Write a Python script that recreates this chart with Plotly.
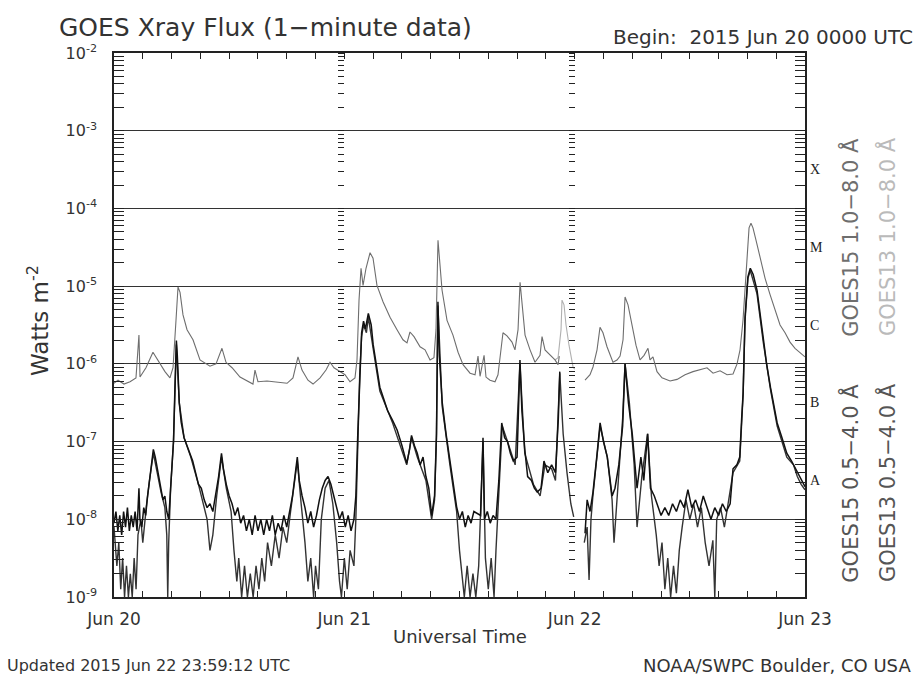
import numpy as np
import pandas as pd
import plotly.graph_objects as go

# ---------------- data (hours since 2015-06-20 00:00 UTC, log10 flux W m^-2) -------------
g15_long_h = [0.0, 0.42, 1.04, 1.67, 2.29, 2.6, 2.71, 3.33, 4.06, 4.58, 5.31, 5.83, 6.15, 6.46, 6.67,
              6.88, 7.19, 7.61, 8.23, 8.96, 9.48, 10.0, 10.63, 11.25, 11.67, 12.3, 13.13, 13.86, 14.48,
              14.69, 15.0, 15.94, 16.78, 18.03, 18.65, 19.17, 19.59, 20.21, 20.74, 21.47, 22.09, 22.51,
              22.92, 23.55, 24.07, 24.59, 25.11, 25.32, 25.53, 25.74, 25.95, 26.26, 26.68, 26.99, 27.4,
              28.03, 28.76, 29.49, 30.11, 30.53, 30.84, 31.26, 31.89, 32.41, 32.93, 33.34, 33.55, 33.76,
              33.97, 34.18, 34.7, 35.32, 35.85, 36.37, 37.1, 37.62, 37.93, 38.14, 38.56, 38.76, 39.18,
              39.7, 40.01, 40.53, 40.95, 41.47, 41.78, 42.1, 42.31, 42.51, 42.83, 43.35, 43.87, 44.39,
              44.6, 44.91, 45.43, 45.95, 46.27, 46.4, 48.0,
              49.08, 49.6, 49.91, 50.33, 50.64, 50.95, 51.37, 51.99, 52.41, 52.73, 53.04, 53.25, 53.56,
              53.98, 54.39, 54.81, 55.23, 55.64, 55.85, 56.16, 56.58, 57.1, 57.94, 58.67, 59.5, 60.33,
              61.06, 61.79, 62.42, 63.15, 63.88, 64.5, 64.92, 65.23, 65.54, 65.75, 65.96, 66.17, 66.37,
              66.58, 66.9, 67.32, 67.84, 68.36, 68.88, 69.4, 69.92, 70.44, 70.96, 71.48, 72.0]
g15_long_v = [-6.25, -6.21, -6.26, -6.23, -6.18, -5.63, -6.17, -6.05, -5.85, -5.95, -6.10, -6.18, -6.05,
              -5.44, -5.01, -5.08, -5.37, -5.56, -5.69, -5.95, -5.99, -6.03, -6.0, -5.80, -5.98, -6.05,
              -6.17, -6.22, -6.26, -6.08, -6.23, -6.22, -6.23, -6.25, -6.18, -5.91, -6.08, -6.21, -6.26,
              -6.18, -6.08, -5.98, -6.05, -6.10, -6.14, -6.23, -6.18, -5.95, -5.18, -4.77, -4.99, -4.77,
              -4.57, -4.64, -4.99, -5.20, -5.40, -5.56, -5.69, -5.73, -5.59, -5.65, -5.78, -5.82, -5.95,
              -5.92, -5.56, -4.41, -4.79, -5.05, -5.44, -5.63, -5.85, -6.01, -6.12, -6.14, -5.90, -6.16,
              -5.89, -6.17, -6.21, -6.23, -6.14, -5.60, -5.64, -5.72, -5.82, -5.56, -4.95, -5.18, -5.63,
              -5.82, -5.98, -5.89, -5.65, -5.82, -5.89, -5.95, -6.01, -5.9, np.nan,
              -6.21, -6.14, -6.04, -5.82, -5.53, -5.60, -5.78, -5.98, -5.95, -5.90, -5.69, -5.14, -5.24,
              -5.50, -5.76, -5.95, -5.89, -5.80, -5.95, -5.91, -6.10, -6.18, -6.22, -6.20, -6.14, -6.10,
              -6.07, -6.05, -6.12, -6.09, -6.14, -6.13, -6.00, -5.82, -5.44, -5.02, -4.54, -4.25, -4.19,
              -4.25, -4.41, -4.64, -4.90, -5.11, -5.31, -5.50, -5.60, -5.72, -5.80, -5.86, -5.91]

g13_long_h = [45.95, 46.27, 46.58, 46.68, 46.89, 47.1, 47.41, 47.83, 48.0]
g13_long_v = [-5.95, -5.92, -5.56, -5.18, -5.24, -5.50, -5.76, -6.04, -6.07]

g15_short_h = [0.0, 0.2, 0.4, 0.6, 0.8, 1.0, 1.2, 1.4, 1.6, 1.8, 2.0, 2.2, 2.4, 2.6, 2.7, 2.9, 3.1, 3.3,
               3.5, 3.7, 3.9, 4.1, 4.3, 4.5, 4.7, 4.9, 5.1, 5.3, 5.5, 5.7, 5.8, 6.0, 6.2, 6.35, 6.5, 6.6,
               6.8, 7.0, 7.3, 7.6, 7.9, 8.2, 8.5, 8.8, 9.1, 9.4, 9.7, 10.0, 10.3, 10.6, 10.9, 11.2, 11.4,
               11.7, 12.0, 12.3, 12.6, 12.9, 13.2, 13.5, 13.8, 14.1, 14.4, 14.7, 15.0, 15.3, 15.6, 15.9,
               16.2, 16.5, 16.8, 17.1, 17.4, 17.7, 18.0, 18.3, 18.6, 19.1, 19.3, 19.6, 19.9, 20.2, 20.5,
               20.8, 21.1, 21.4, 21.7, 22.0, 22.3, 22.6, 22.9, 23.2, 23.5, 23.8, 24.1, 24.4, 24.7, 25.0,
               25.2, 25.4, 25.6, 25.8, 26.0, 26.2, 26.5, 26.8, 27.0, 27.4, 27.7, 28.1, 28.5, 29.0, 29.5,
               30.0, 30.5, 30.8, 31.0, 31.3, 31.6, 31.9, 32.2, 32.5, 32.8, 33.1, 33.4, 33.6, 33.75, 33.9,
               34.2, 34.6, 35.0, 35.4, 35.7, 36.0, 36.3, 36.6, 36.9, 37.2, 37.5, 38.2, 38.45, 38.6, 38.9,
               39.2, 39.5, 39.8, 40.1, 40.4, 40.7, 41.0, 41.3, 41.6, 42.0, 42.3, 42.5, 42.8, 43.1, 43.5,
               43.8, 44.1, 44.5, 44.8, 45.2, 45.6, 46.0, 46.3, 46.45, 47.0,
               49.08, 49.3, 49.6, 49.9, 50.3, 50.65, 51.0, 51.4, 51.9, 52.2, 52.6, 53.0, 53.25, 53.6,
               54.0, 54.3, 54.5, 54.9, 55.2, 55.6, 55.9, 56.3, 56.6, 57.0, 57.4, 57.8, 58.2, 58.6, 59.0,
               59.4, 59.8, 60.2, 60.6, 61.0, 61.4, 61.8, 62.2, 62.6, 63.0, 63.4, 63.8, 64.2, 64.5, 64.9,
               65.2, 65.4, 65.55, 65.75, 66.05, 66.3, 66.6, 67.0, 67.3, 67.65, 68.0, 68.4, 68.8, 69.1,
               69.6, 70.1, 70.6, 71.2, 71.6, 72.0]
g15_short_v = [-8.05, -7.9, -8.15, -7.95, -8.2, -7.9, -8.1, -7.85, -8.15, -7.95, -8.1, -7.9, -8.15, -7.6,
               -8.0, -8.1, -7.85, -7.95, -7.7, -7.5, -7.3, -7.1, -7.2, -7.35, -7.5, -7.6, -7.75, -7.7,
               -7.9, -8.0, -7.8, -7.45, -7.0, -6.3, -5.7, -5.9, -6.5, -6.75, -6.95, -7.05, -7.15, -7.25,
               -7.4, -7.55, -7.6, -7.75, -7.85, -7.8, -7.9, -7.7, -7.45, -7.15, -7.35, -7.55, -7.7, -7.8,
               -7.95, -7.85, -8.05, -7.95, -8.15, -8.0, -8.2, -7.95, -8.15, -8.0, -8.2, -8.0, -8.15,
               -7.95, -8.2, -8.05, -8.15, -7.95, -8.1, -7.9, -7.7, -7.2, -7.5, -7.7, -7.85, -8.05, -7.9,
               -8.1, -7.95, -7.75, -7.6, -7.5, -7.45, -7.55, -7.7, -7.85, -8.0, -7.9, -8.1, -7.95, -8.15,
               -8.0, -7.7, -6.9, -6.1, -5.6, -5.45, -5.55, -5.35, -5.5, -5.75, -6.1, -6.3, -6.45, -6.6,
               -6.72, -6.85, -7.05, -7.28, -7.1, -6.92, -7.05, -7.15, -7.3, -7.2, -7.45, -7.6, -7.95,
               -7.7, -6.9, -5.2, -5.9, -6.5, -6.9, -7.24, -7.55, -7.84, -8.0, -7.9, -8.1, -7.95, -8.05,
               -7.9, -7.95, -6.95, -8.0, -7.9, -8.05, -7.95, -8.0, -7.5, -6.76, -6.95, -7.0, -7.15,
               -7.25, -7.2, -5.95, -6.6, -7.1, -7.45, -7.5, -7.6, -7.65, -7.6, -7.25, -7.4, -7.3, -7.4,
               -6.7, -6.1, np.nan,
               -8.18, -7.75, -7.9, -7.66, -7.2, -6.76, -7.0, -7.2, -7.7, -7.6, -7.3, -6.8, -6.0, -6.5,
               -6.9, -7.35, -7.6, -7.2, -7.5, -6.9, -7.6, -7.7, -7.8, -7.95, -7.85, -7.95, -7.8, -7.9,
               -7.75, -7.85, -7.62, -7.85, -7.75, -7.9, -7.7, -7.85, -8.0, -7.85, -7.95, -7.8, -7.9,
               -7.8, -7.35, -7.3, -7.2, -6.7, -6.38, -5.4, -4.88, -4.77, -4.85, -5.05, -5.35, -5.69,
               -6.0, -6.3, -6.55, -6.76, -6.95, -7.15, -7.25, -7.4, -7.5, -7.58]

g13_short_h = [0.0, 0.3, 0.5, 0.7, 0.9, 1.1, 1.3, 1.5, 1.7, 1.9, 2.1, 2.3, 2.5, 2.8, 3.0, 3.2, 3.4, 3.7,
               4.1, 4.5, 4.9, 5.3, 5.5, 5.6, 5.7, 5.9, 6.2, 6.5, 6.8, 7.3, 8.0, 8.8, 9.3, 9.7, 10.0, 10.3,
               10.7, 11.2, 11.7, 12.2, 12.5, 12.8, 13.0, 13.3, 13.6, 13.9, 14.2, 14.5, 14.8, 15.1, 15.4,
               15.7, 16.0, 16.4, 16.8, 17.2, 17.6, 18.0, 18.4, 19.1, 19.5, 19.9, 20.2, 20.5, 20.8, 21.0,
               21.3, 21.6, 22.0, 22.4, 22.8, 23.2, 23.5, 23.7, 24.0, 24.3, 24.6, 25.0, 25.2, 25.4, 25.6,
               25.8, 26.0, 26.3, 26.5, 27.0, 27.7, 29.0, 30.5, 31.0, 31.6, 32.5, 33.1, 33.4, 33.6, 33.75,
               34.2, 35.0, 35.7, 36.0, 36.3, 36.5, 36.8, 37.1, 37.4, 37.7, 38.0, 38.45, 38.7, 39.0, 39.3,
               39.6, 39.8, 40.1, 40.45, 41.0, 41.8, 42.3, 42.8, 43.7, 44.4, 44.9, 45.6, 46.0, 46.2, 46.45,
               46.8, 47.2, 47.6, 47.9, 48.4,
               49.0, 49.3, 49.5, 49.7, 49.9, 50.3, 50.65, 51.4, 51.9, 52.1, 52.6, 53.0, 53.25, 53.7, 54.2,
               54.5, 55.0, 55.6, 56.0, 56.5, 56.8, 57.1, 57.4, 57.7, 58.0, 58.3, 58.6, 58.9, 59.2, 59.6,
               60.0, 60.4, 60.8, 61.2, 61.6, 62.0, 62.4, 62.6, 62.8, 63.2, 63.6, 64.0, 64.5, 65.2, 65.55,
               65.75, 66.05, 66.3, 67.0, 67.65, 68.4, 69.1, 70.1, 70.8, 71.2, 71.6, 72.0]
g13_short_v = [-8.1, -8.6, -8.3, -8.9, -8.5, -9.0, -8.6, -9.0, -8.7, -9.0, -8.5, -8.9, -8.2, -8.0, -8.3,
               -8.0, -7.8, -7.5, -7.15, -7.4, -7.65, -7.85, -8.2, -9.0, -8.3, -7.6, -7.0, -5.75, -6.5,
               -6.95, -7.2, -7.55, -7.8, -8.0, -8.4, -8.2, -7.7, -7.2, -7.6, -7.9, -8.4, -8.8, -8.5, -9.0,
               -8.6, -9.0, -8.7, -9.0, -8.6, -8.9, -8.5, -8.8, -8.3, -8.6, -8.2, -8.5, -8.1, -8.3, -7.9,
               -7.25, -7.8, -8.3, -8.8, -8.5, -9.0, -8.6, -8.9, -8.0, -7.6, -7.5, -7.8, -8.3, -8.8, -9.0,
               -8.5, -8.9, -8.4, -8.6, -8.0, -6.95, -6.15, -5.65, -5.5, -5.6, -5.4, -5.8, -6.35, -6.75,
               -7.3, -6.95, -7.2, -7.5, -8.0, -7.75, -6.95, -5.25, -6.55, -7.3, -7.9, -8.4, -8.8, -9.0,
               -8.6, -9.0, -8.7, -9.0, -8.6, -7.0, -8.5, -8.9, -8.5, -9.0, -8.4, -7.6, -6.8, -7.0, -7.3,
               -6.0, -7.15, -7.55, -7.7, -7.3, -7.35, -7.5, -6.8, -6.12, -6.9, -7.4, -7.8, -7.97, np.nan,
               -8.3, -8.1, -8.78, -8.0, -7.7, -7.25, -6.8, -7.2, -7.75, -8.3, -7.35, -6.7, -6.0, -6.5,
               -7.3, -8.1, -7.45, -6.9, -7.7, -8.2, -8.6, -8.3, -8.9, -8.5, -9.0, -8.6, -8.95, -8.4, -8.1,
               -7.75, -8.0, -7.8, -8.1, -7.85, -8.3, -8.6, -8.27, -9.0, -8.0, -7.85, -8.1, -7.8, -7.4,
               -7.25, -6.4, -5.45, -4.9, -4.8, -5.1, -5.72, -6.33, -6.8, -7.2, -7.3, -7.45, -7.55, -7.62]

day_ticks = ["2015-06-20", "2015-06-21", "2015-06-22", "2015-06-23"]
day_labels = ["Jun 20", "Jun 21", "Jun 22", "Jun 23"]
decades = [-9, -8, -7, -6, -5, -4, -3, -2]
classes = ["A", "B", "C", "M", "X"]
class_pos = [-7.5, -6.5, -5.5, -4.5, -3.5]

base = pd.Timestamp("2015-06-20 00:00:00")


def to_xy(h, v):
    t = base + pd.to_timedelta(np.array(h, dtype=float), unit="h")
    f = np.power(10.0, np.array(v, dtype=float))
    return t, f


FONT = "DejaVu Sans"
fig = go.Figure()
series = [
    (g13_short_h, g13_short_v, "#333333", 1.4, "GOES13 0.5-4.0 A"),
    (g15_short_h, g15_short_v, "#111111", 1.5, "GOES15 0.5-4.0 A"),
    (g13_long_h, g13_long_v, "#b0b0b0", 1.1, "GOES13 1.0-8.0 A"),
    (g15_long_h, g15_long_v, "#6e6e6e", 1.1, "GOES15 1.0-8.0 A"),
]
for h, v, c, w, n in series:
    t, f = to_xy(h, v)
    fig.add_trace(go.Scatter(x=t, y=f, mode="lines", name=n,
                             line=dict(color=c, width=w), connectgaps=False,
                             showlegend=False))

# dummy traces to host the interior day axes
for ax in ["y2", "y3"]:
    fig.add_trace(go.Scatter(x=[day_ticks[0]], y=[1e-20], yaxis=ax, mode="markers",
                             marker=dict(opacity=0), showlegend=False, hoverinfo="skip"))

yaxis_common = dict(type="log", range=[-9, -2])
fig.update_layout(
    width=919, height=679,
    margin=dict(l=114, r=114, t=53, b=82),
    paper_bgcolor="white", plot_bgcolor="white",
    font=dict(family=FONT, color="#333333"),
    xaxis=dict(
        type="date", range=[day_ticks[0], day_ticks[-1]],
        tickvals=day_ticks, ticktext=day_labels,
        ticks="inside", ticklen=6, tickwidth=1.2, tickcolor="#222",
        minor=dict(dtick=3 * 3600 * 1000, ticks="inside", ticklen=6, tickwidth=1.2, tickcolor="#222"),
        showline=True, linecolor="#222", linewidth=1.5, mirror="ticks",
        showgrid=False, tickfont=dict(size=17, color="#333"), zeroline=False,
        ticklabelstandoff=6,
    ),
    yaxis=dict(
        **yaxis_common,
        tickvals=[10.0 ** d for d in decades],
        ticktext=["10<sup>-%d</sup>" % (-d) for d in decades],
        ticks="inside", ticklen=10, tickwidth=1.2, tickcolor="#222",
        minor=dict(dtick="D1", ticks="inside", ticklen=10, tickwidth=1.2, tickcolor="#222"),
        showline=True, linecolor="#222", linewidth=1.5, mirror="ticks",
        showgrid=True, gridcolor="#333", gridwidth=1.4,
        tickfont=dict(size=16, color="#333"), zeroline=False,
        ticklabelstandoff=12,
    ),
    yaxis2=dict(**yaxis_common, overlaying="y", anchor="free", position=1 / 3, side="left",
                showgrid=False, showline=False, showticklabels=False,
                tickvals=[10.0 ** d for d in decades],
                ticks="outside", ticklen=6, tickwidth=1.2, tickcolor="#222",
                minor=dict(dtick="D1", ticks="outside", ticklen=6, tickwidth=1.2, tickcolor="#222")),
    yaxis3=dict(**yaxis_common, overlaying="y", anchor="free", position=2 / 3, side="left",
                showgrid=False, showline=False, showticklabels=False,
                tickvals=[10.0 ** d for d in decades],
                ticks="outside", ticklen=6, tickwidth=1.2, tickcolor="#222",
                minor=dict(dtick="D1", ticks="outside", ticklen=6, tickwidth=1.2, tickcolor="#222")),
)

ann = []
# flare class letters
for lab, pos in zip(classes, class_pos):
    ann.append(dict(text=lab, x=1, xref="paper", xanchor="left", xshift=3, y=pos, yref="y",
                    yanchor="middle", showarrow=False,
                    font=dict(family="Liberation Serif", size=14, color="#222")))
# rotated legend labels
ann += [
    dict(text="GOES15 1.0−8.0 Å", x=1.065, y=0.662, textangle=-90,
         font=dict(size=21, color="#6e6e6e")),
    dict(text="GOES13 1.0−8.0 Å", x=1.119, y=0.662, textangle=-90,
         font=dict(size=21, color="#bababa")),
    dict(text="GOES15 0.5−4.0 Å", x=1.065, y=0.21, textangle=-90,
         font=dict(size=21, color="#555555")),
    dict(text="GOES13 0.5−4.0 Å", x=1.119, y=0.21, textangle=-90,
         font=dict(size=21, color="#555555")),
    dict(text="GOES Xray Flux (1−minute data)", x=-0.0825, y=1.046, xanchor="left",
         font=dict(size=25, color="#333")),
    dict(text="Begin:  2015 Jun 20 0000 UTC", x=1.159, y=1.029, xanchor="right",
         font=dict(size=20, color="#333")),
    dict(text="Watts m<sup>-2</sup>", x=-0.11, y=0.509, textangle=-90,
         font=dict(size=23, color="#333")),
    dict(text="Universal Time", x=0.5, y=-0.072, font=dict(size=18, color="#333")),
    dict(text="Updated 2015 Jun 22 23:59:12 UTC", x=-0.158, y=-0.125, xanchor="left",
         font=dict(size=16, color="#333")),
    dict(text="NOAA/SWPC Boulder, CO USA", x=1.156, y=-0.125, xanchor="right",
         font=dict(size=18, color="#333")),
]
for a in ann[len(classes):]:
    a.update(xref="paper", yref="paper", showarrow=False)
    a.setdefault("xanchor", "center")
    a["yanchor"] = "middle"
fig.update_layout(annotations=ann)

fig.write_html("out.html")
